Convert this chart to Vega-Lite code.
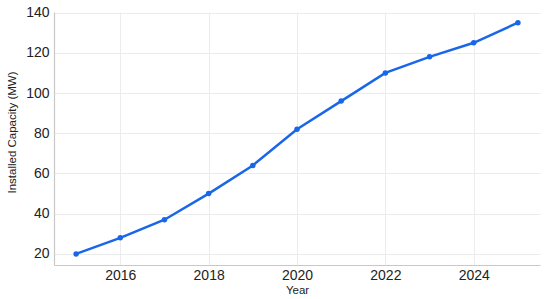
{
  "$schema": "https://vega.github.io/schema/vega-lite/v6.json",
  "autosize": "none",
  "width": 486,
  "height": 253,
  "padding": {"left": 54, "top": 12, "right": 10, "bottom": 34},
  "background": "white",
  "config": {
    "view": {"stroke": null},
    "font": "Liberation Sans",
    "axis": {
      "labelFont": "Liberation Sans",
      "titleFont": "Liberation Sans",
      "labelFontSize": 14,
      "labelColor": "#222",
      "titleFontSize": 11.5,
      "titleFontWeight": "normal",
      "titleColor": "#222",
      "gridColor": "#ececec",
      "gridWidth": 1,
      "domainColor": "#c8c8c8",
      "domainWidth": 1.2,
      "ticks": false
    }
  },
  "data": {
    "values": [
      {"Year": 2015, "Capacity": 20},
      {"Year": 2016, "Capacity": 28},
      {"Year": 2017, "Capacity": 37},
      {"Year": 2018, "Capacity": 50},
      {"Year": 2019, "Capacity": 64},
      {"Year": 2020, "Capacity": 82},
      {"Year": 2021, "Capacity": 96},
      {"Year": 2022, "Capacity": 110},
      {"Year": 2023, "Capacity": 118},
      {"Year": 2024, "Capacity": 125},
      {"Year": 2025, "Capacity": 135}
    ]
  },
  "mark": {"type": "line", "color": "#1a66e8", "strokeWidth": 2.5, "point": {"filled": true, "size": 30, "color": "#1a66e8"}},
  "encoding": {
    "x": {
      "field": "Year", "type": "quantitative",
      "scale": {"domain": [2014.5, 2025.5], "nice": false, "zero": false},
      "axis": {"values": [2016, 2018, 2020, 2022, 2024], "format": "d", "labelPadding": 3, "title": "Year", "titlePadding": 2}
    },
    "y": {
      "field": "Capacity", "type": "quantitative",
      "scale": {"domain": [14.5, 140.3], "nice": false, "zero": false},
      "axis": {"values": [20, 40, 60, 80, 100, 120, 140], "title": "Installed Capacity (MW)", "labelPadding": 5, "titlePadding": 8, "titleY": 120}
    }
  }
}
